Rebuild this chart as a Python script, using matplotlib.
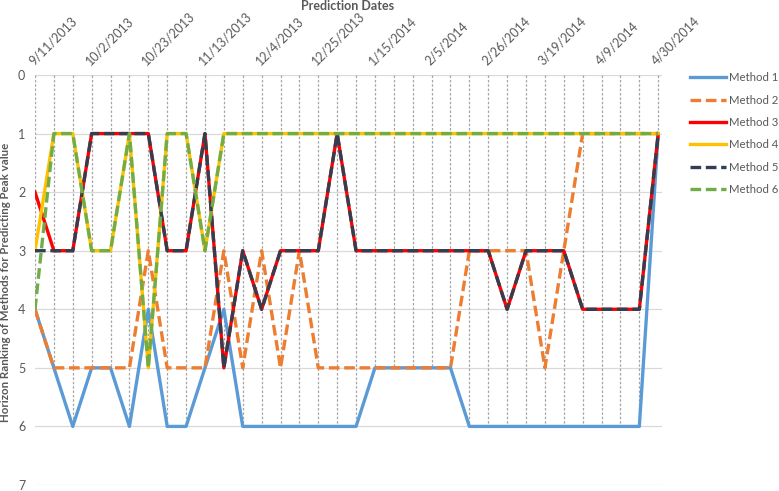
import matplotlib.pyplot as plt
from matplotlib.lines import Line2D

# weekly prediction dates
dates = ["9/11/2013", "9/18/2013", "9/25/2013", "10/2/2013", "10/9/2013", "10/16/2013",
         "10/23/2013", "10/30/2013", "11/6/2013", "11/13/2013", "11/20/2013", "11/27/2013",
         "12/4/2013", "12/11/2013", "12/18/2013", "12/25/2013", "1/1/2014", "1/8/2014",
         "1/15/2014", "1/22/2014", "1/29/2014", "2/5/2014", "2/12/2014", "2/19/2014",
         "2/26/2014", "3/5/2014", "3/12/2014", "3/19/2014", "3/26/2014", "4/2/2014",
         "4/9/2014", "4/16/2014", "4/23/2014", "4/30/2014"]

method1 = [4, 5, 6, 5, 5, 6, 4, 6, 6, 5, 4, 6, 6, 6, 6, 6, 6, 6, 5, 5, 5, 5, 5,
           6, 6, 6, 6, 6, 6, 6, 6, 6, 6, 1]
method2 = [4, 5, 5, 5, 5, 5, 3, 5, 5, 5, 3, 5, 3, 5, 3, 5, 5, 5, 5, 5, 5, 5, 5,
           3, 3, 3, 3, 5, 3, 1, 1, 1, 1, 1]
method3 = [2, 3, 3, 1, 1, 1, 1, 3, 3, 1, 5, 3, 4, 3, 3, 3, 1, 3, 3, 3, 3, 3, 3,
           3, 3, 4, 3, 3, 3, 4, 4, 4, 4, 1]
method4 = [3, 1, 1, 3, 3, 1, 5, 1, 1, 3, 1, 1, 1, 1, 1, 1, 1, 1, 1, 1, 1, 1, 1,
           1, 1, 1, 1, 1, 1, 1, 1, 1, 1, 1]
method5 = [3, 3, 3, 1, 1, 1, 1, 3, 3, 1, 5, 3, 4, 3, 3, 3, 1, 3, 3, 3, 3, 3, 3,
           3, 3, 4, 3, 3, 3, 4, 4, 4, 4, 1]
method6 = [4, 1, 1, 3, 3, 1, 5, 1, 1, 3, 1, 1, 1, 1, 1, 1, 1, 1, 1, 1, 1, 1, 1,
           1, 1, 1, 1, 1, 1, 1, 1, 1, 1, 1]

names = ["Method 1", "Method 2", "Method 3", "Method 4", "Method 5", "Method 6"]
series = [method1, method2, method3, method4, method5, method6]
colors = ["#5B9BD5", "#ED7D31", "#FF0000", "#FFC000", "#333F50", "#70AD47"]
dashed = [False, True, False, False, True, True]

txt = "#595959"
plt.rcParams['font.family'] = ['Lato', 'DejaVu Sans']

fig = plt.figure(figsize=(7.79, 4.91), dpi=100)
W, H = 779, 491
x0, x1, y0, y1 = 35, 662, 75, 485
ax = fig.add_axes([x0 / W, 1 - y1 / H, (x1 - x0) / W, (y1 - y0) / H])

xs = list(range(len(dates)))

# horizontal gridlines
for v in range(0, 8):
    ax.axhline(v, color="#D9D9D9", lw=0.9, zorder=0)

# drop lines from the axis down to the lowest point at each date
for i in xs:
    low = max(s[i] for s in series)
    ax.plot([i, i], [0, low], color="#A6A6A6", lw=0.9, dashes=(2, 1.5), zorder=1)

for s, c, d, n in zip(series, colors, dashed, names):
    if d:
        ax.plot(xs, s, color=c, lw=2.4, dashes=(3.2, 1.4), label=n, zorder=2)
    else:
        ax.plot(xs, s, color=c, lw=2.4, label=n, zorder=2)

ax.set_xlim(0, 33.2)
ax.set_ylim(7, 0)
ax.set_yticks(range(0, 8))
ax.tick_params(axis='y', length=0, pad=7, labelsize=9, labelcolor=txt)

ax.xaxis.tick_top()
ax.set_xticks(xs[::3])
ax.set_xticklabels(dates[::3], rotation=45, ha='left', va='bottom',
                   rotation_mode='anchor', fontsize=9, color=txt)
ax.tick_params(axis='x', length=0, pad=6)

for sp in ax.spines.values():
    sp.set_visible(False)

fig.text(348 / W, 1 - 6 / H, "Prediction Dates", ha='center', va='center',
         fontsize=9, fontweight='bold', color=txt)
fig.text(6 / W, 1 - 282 / H, "Horizon Ranking of Methods for Predicting Peak value",
         rotation=90, ha='center', va='center', fontsize=8.3, fontweight='bold', color=txt)

handles = []
for c, d in zip(colors, dashed):
    if d:
        handles.append(Line2D([], [], color=c, lw=2.4, dashes=(3.2, 1.4)))
    else:
        handles.append(Line2D([], [], color=c, lw=2.4))
fig.legend(handles, names, loc='upper left', bbox_to_anchor=(680 / W, 1 - 62 / H),
           frameon=False, fontsize=8.2, labelcolor=txt, handlelength=3.1,
           labelspacing=1.0, handletextpad=0.3)

fig.savefig("out.png", dpi=100)
